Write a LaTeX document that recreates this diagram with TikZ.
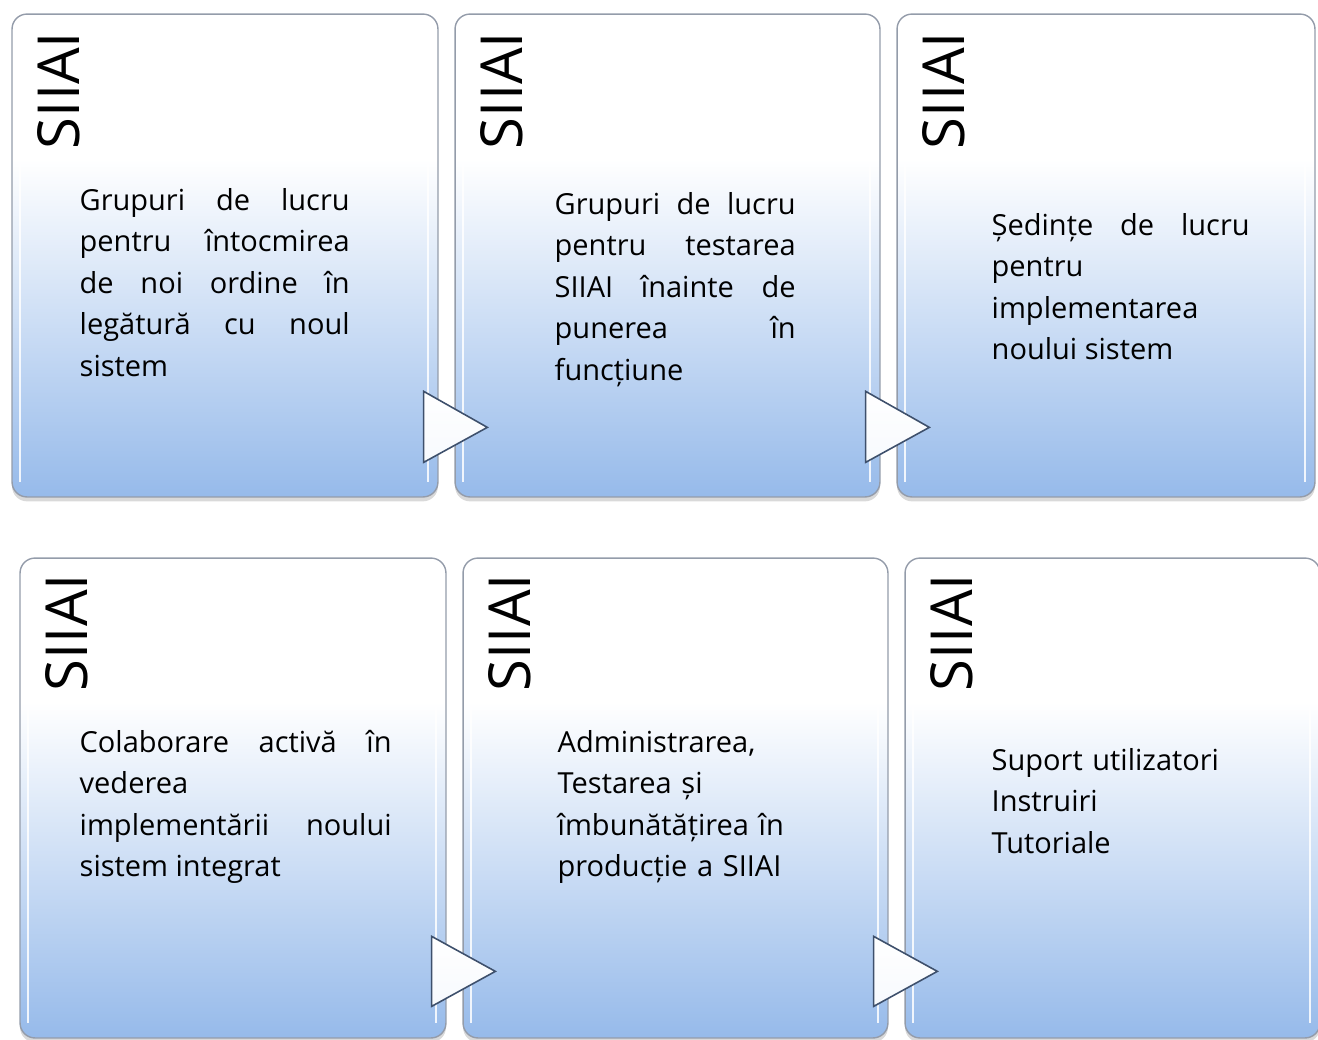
\documentclass[tikz,border=0pt]{standalone}
\usepackage{fontspec}
\setmainfont{Open Sans}
\usetikzlibrary{calc,shadows}
\definecolor{siiaiblue}{RGB}{150,186,234}
\definecolor{siiaiedge}{RGB}{148,156,170}
\definecolor{triedge}{RGB}{62,80,108}
\pgfdeclareverticalshading{siiaifade}{100bp}{color(0bp)=(siiaiblue); color(25bp)=(siiaiblue); color(60bp)=(white); color(100bp)=(white)}

\begin{document}
\begin{tikzpicture}[x=0.02cm, y=-0.02cm, font=\fontsize{16.5}{23.6}\selectfont,
    stagebox/.style={draw=siiaiedge, line width=0.8pt, rounded corners=0.3cm, shading=siiaifade, inner sep=0pt,
      drop shadow={shadow xshift=0pt, shadow yshift=-2.5pt, opacity=0.3},
      path picture={
        \draw[white, line width=1.6pt, opacity=0.85] ([xshift=0.16cm, yshift=-0.5cm]path picture bounding box.north west) -- ([xshift=0.16cm, yshift=0.3cm]path picture bounding box.south west);
        \draw[white, line width=1.6pt, opacity=0.85] ([xshift=-0.2cm, yshift=-0.5cm]path picture bounding box.north east) -- ([xshift=-0.2cm, yshift=0.3cm]path picture bounding box.south east);
      }},
    siiailabel/.style={rotate=90, inner sep=0pt, font=\fontsize{33}{36}\selectfont},
    stagetext/.style={inner sep=0pt, align=justify},
    arrowtri/.style={draw=triedge, line width=0.9pt, line join=miter, top color=white, bottom color=white!92!siiaiblue}]
  \useasboundingbox (0,0) rectangle (1318,1039);

  % first row
  \node[stagebox, minimum width=8.52cm, minimum height=9.66cm] (b1) at (225,255.5) {};
  \node[stagebox, minimum width=8.5cm, minimum height=9.66cm] (b2) at (667.5,255.5) {};
  \node[stagebox, minimum width=8.36cm, minimum height=9.66cm] (b3) at (1106,255.5) {};
  % second row
  \node[stagebox, minimum width=8.52cm, minimum height=9.6cm] (b4) at (233,798) {};
  \node[stagebox, minimum width=8.5cm, minimum height=9.6cm] (b5) at (675.5,798) {};
  \node[stagebox, minimum width=8.3cm, minimum height=9.6cm] (b6) at (1112.5,798) {};

  \node[siiailabel, anchor=base west] (l1) at ([shift={(68,136)}]b1.north west) {SIIAI};
  \node[siiailabel, anchor=base west] (l2) at ([shift={(68,136)}]b2.north west) {SIIAI};
  \node[siiailabel, anchor=base west] (l3) at ([shift={(68,136)}]b3.north west) {SIIAI};
  \node[siiailabel, anchor=base west] (l4) at ([shift={(68,134)}]b4.north west) {SIIAI};
  \node[siiailabel, anchor=base west] (l5) at ([shift={(68,134)}]b5.north west) {SIIAI};
  \node[siiailabel, anchor=base west] (l6) at ([shift={(68,134)}]b6.north west) {SIIAI};

  \node[stagetext, text width=5.4cm, anchor=base west] (t1) at ([shift={(68,197)}]b1.north west)
    {Grupuri de lucru\linebreak pentru întocmirea\linebreak de noi ordine în\linebreak legătură cu noul\linebreak sistem};
  \node[stagetext, text width=4.82cm, anchor=base west] (t2) at ([shift={(100,201)}]b2.north west)
    {Grupuri de lucru\linebreak pentru testarea\linebreak SIIAI înainte de\linebreak punerea în\linebreak funcțiune};
  \node[stagetext, text width=5.16cm, anchor=base west] (t3) at ([shift={(95,222)}]b3.north west)
    {Ședințe de lucru\linebreak pentru\linebreak implementarea\linebreak noului sistem};
  \node[stagetext, text width=6.24cm, anchor=base west] (t4) at ([shift={(60,195)}]b4.north west)
    {Colaborare activă în\linebreak vederea\linebreak implementării noului\linebreak sistem integrat};
  \node[stagetext, text width=5.2cm, align=left, anchor=base west] (t5) at ([shift={(95,195)}]b5.north west)
    {Administrarea,\\ Testarea și\\ îmbunătățirea în\\ producție a SIIAI};
  \node[stagetext, text width=5.2cm, align=left, anchor=base west] (t6) at ([shift={(87,213)}]b6.north west)
    {Suport utilizatori\\ Instruiri\\ Tutoriale};

  % arrows between stages
  \draw[arrowtri] ($(b1.north east)+(-15,378)$) -- ($(b2.north west)+(33,414)$) -- ($(b1.north east)+(-15,449)$) -- cycle;
  \draw[arrowtri] ($(b2.north east)+(-15,378)$) -- ($(b3.north west)+(33,414)$) -- ($(b2.north east)+(-15,449)$) -- cycle;
  \draw[arrowtri] ($(b4.north east)+(-15,379)$) -- ($(b5.north west)+(33,414)$) -- ($(b4.north east)+(-15,449)$) -- cycle;
  \draw[arrowtri] ($(b5.north east)+(-15,379)$) -- ($(b6.north west)+(33,414)$) -- ($(b5.north east)+(-15,449)$) -- cycle;
\end{tikzpicture}
\end{document}
